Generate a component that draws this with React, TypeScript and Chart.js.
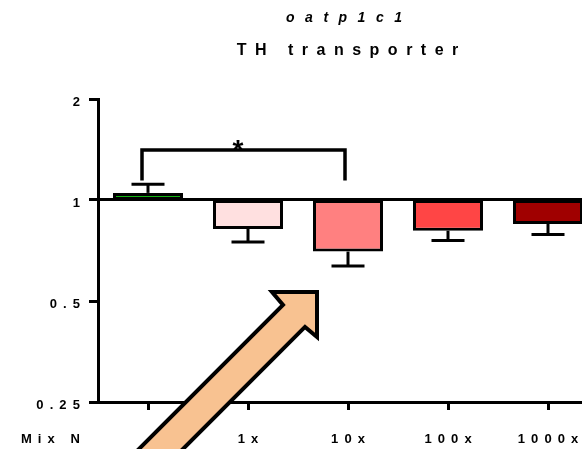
import React, { useEffect, useRef } from 'react';
import { Chart, registerables } from 'chart.js';

Chart.register(...registerables);

const TITLE = 'oatp1c1';
const SUBTITLE = 'TH transporter';
const CATEGORIES = ['Mix N', '1x', '10x', '100x', '1000x'];
const MEANS = [1.05, 0.82, 0.702, 0.81, 0.848];
const ERROR_ENDS = [1.114, 0.75, 0.636, 0.757, 0.789];
const COLORS = ['#12b312', '#FFE0E0', '#FF8080', '#FF4545', '#A00000'];
const Y_TICKS = [0.25, 0.5, 1, 2];
const Y_TICK_LABELS = ['0.25', '0.5', '1', '2'];
const BASELINE = 1;
const Y_MIN = 0.25;
const Y_MAX = 2;
const SIG_FROM = -0.06;
const SIG_TO = 1.97;
const SIG_TOP = 1.41;
const SIG_LEG = 1.143;
const SIG_LABEL = '*';
const SIG_LABEL_X = 0.9;
const ARROW_TIP = { x: 1.69, y: 0.532 };

const FONT = '"Liberation Sans", Arial, sans-serif';
const LS = 6.1;

export default function App() {
  const ref = useRef<HTMLCanvasElement | null>(null);

  useEffect(() => {
    document.body.style.overflow = 'hidden';
    document.documentElement.style.overflow = 'hidden';
    const canvas = ref.current;
    if (!canvas) return;

    const deco = {
      id: 'deco',
      beforeUpdate(chart: any) {
        (chart.ctx as any).letterSpacing = LS + 'px';
      },
      beforeDraw(chart: any) {
        (chart.ctx as any).letterSpacing = LS + 'px';
      },
      afterDatasetsDraw(chart: any) {
        const ctx = chart.ctx;
        const xs = chart.scales.x;
        const ys = chart.scales.y;
        const meta = chart.getDatasetMeta(0);
        ctx.save();
        ctx.strokeStyle = '#000';
        ctx.lineWidth = 3;
        ctx.lineCap = 'butt';
        // error bars, from the bar's free end outward
        meta.data.forEach((bar: any, i: number) => {
          const yStart = ys.getPixelForValue(MEANS[i]);
          const yEnd = ys.getPixelForValue(ERROR_ENDS[i]);
          ctx.beginPath();
          ctx.moveTo(bar.x, yStart);
          ctx.lineTo(bar.x, yEnd);
          ctx.stroke();
          ctx.beginPath();
          ctx.moveTo(bar.x - 16.5, yEnd);
          ctx.lineTo(bar.x + 16.5, yEnd);
          ctx.stroke();
        });
        // significance bracket
        const x0 = xs.getPixelForValue(SIG_FROM);
        const x1 = xs.getPixelForValue(SIG_TO);
        const yt = ys.getPixelForValue(SIG_TOP);
        const yl = ys.getPixelForValue(SIG_LEG);
        ctx.lineWidth = 3.5;
        ctx.lineJoin = 'miter';
        ctx.beginPath();
        ctx.moveTo(x0, yl);
        ctx.lineTo(x0, yt);
        ctx.lineTo(x1, yt);
        ctx.lineTo(x1, yl);
        ctx.stroke();
        (ctx as any).letterSpacing = '0px';
        ctx.fillStyle = '#000';
        ctx.font = `bold 28px ${FONT}`;
        ctx.textAlign = 'center';
        ctx.textBaseline = 'alphabetic';
        ctx.fillText(SIG_LABEL, xs.getPixelForValue(SIG_LABEL_X), yt + 9);
        ctx.restore();
      },
      afterDraw(chart: any) {
        const ctx = chart.ctx;
        const xs = chart.scales.x;
        const ys = chart.scales.y;
        const area = chart.chartArea;
        const cx = (area.left + area.right) / 2;
        ctx.save();
        ctx.fillStyle = '#000';
        // titles
        ctx.textAlign = 'center';
        ctx.textBaseline = 'alphabetic';
        (ctx as any).letterSpacing = '10.5px';
        ctx.font = `italic bold 14px ${FONT}`;
        ctx.fillText(TITLE, cx - 4 + 5.25, 22);
        (ctx as any).letterSpacing = '8.5px';
        ctx.font = `bold 16px ${FONT}`;
        ctx.fillText(SUBTITLE, cx - 0.5 + 4.25, 55);
        // x category labels
        (ctx as any).letterSpacing = LS + 'px';
        ctx.font = `bold 13px ${FONT}`;
        CATEGORIES.forEach((c, i) => {
          if (i === 0) {
            ctx.textAlign = 'right';
            ctx.fillText(c, area.left - 18 + LS, 443);
          } else {
            ctx.textAlign = 'center';
            ctx.fillText(c, xs.getPixelForValue(i) + LS / 2, 443);
          }
        });
        // arrow
        const tx = xs.getPixelForValue(ARROW_TIP.x);
        const ty = ys.getPixelForValue(ARROW_TIP.y);
        const pts: [number, number][] = [
          [0, 0],
          [-45, 0],
          [-34, 13],
          [-34 - 250, 13 + 250],
          [-12 - 250, 35 + 250],
          [-12, 35],
          [0, 45],
        ];
        ctx.beginPath();
        pts.forEach(([dx, dy], k) => {
          if (k === 0) ctx.moveTo(tx + dx, ty + dy);
          else ctx.lineTo(tx + dx, ty + dy);
        });
        ctx.closePath();
        ctx.fillStyle = '#F8C291';
        ctx.fill();
        ctx.lineWidth = 4;
        ctx.lineJoin = 'miter';
        ctx.strokeStyle = '#000';
        ctx.stroke();
        ctx.restore();
      },
    };

    const chart = new Chart(canvas, {
      type: 'bar',
      data: {
        labels: CATEGORIES,
        datasets: [
          {
            data: MEANS.map((m) => [BASELINE, m]) as any,
            backgroundColor: COLORS,
            borderColor: '#000',
            borderWidth: 3,
            borderSkipped: false,
            barPercentage: 0.7,
            categoryPercentage: 1,
          },
        ],
      },
      options: {
        animation: false,
        responsive: false,
        events: [],
        layout: { padding: { top: 99, right: 2, left: 0, bottom: 0 } },
        plugins: {
          legend: { display: false },
          tooltip: { enabled: false },
          title: { display: false },
        },
        scales: {
          x: {
            type: 'category',
            offset: true,
            grid: {
              display: true,
              drawOnChartArea: false,
              drawTicks: true,
              tickLength: 8,
              tickWidth: 3,
              tickColor: '#000',
              offset: false,
            },
            border: { display: true, color: '#000', width: 3 },
            ticks: { display: false },
            afterFit: (s: any) => {
              s.height = 47;
            },
          },
          y: {
            type: 'logarithmic',
            min: Y_MIN,
            max: Y_MAX,
            afterBuildTicks: (s: any) => {
              s.ticks = Y_TICKS.map((v) => ({ value: v }));
            },
            ticks: {
              callback: (v: any) => {
                const i = Y_TICKS.indexOf(Number(v));
                return i >= 0 ? Y_TICK_LABELS[i] : '';
              },
              font: { family: FONT, size: 13, weight: 'bold' },
              color: '#000',
              padding: 3,
              labelOffset: 3,
            },
            grid: {
              display: true,
              color: (c: any) => (c.tick && c.tick.value === BASELINE ? '#000' : 'rgba(0,0,0,0)'),
              lineWidth: 3,
              tickColor: '#000',
              tickWidth: 3,
              tickLength: 9,
              drawTicks: true,
            },
            border: { display: true, color: '#000', width: 3 },
            afterFit: (s: any) => {
              s.width = 98;
            },
          },
        },
      } as any,
      plugins: [deco],
    });

    return () => chart.destroy();
  }, []);

  return (
    <div style={{ position: 'fixed', left: 0, top: 0, width: 600, height: 449, overflow: 'hidden', background: '#fff' }}>
      <canvas ref={ref} width={600} height={449} style={{ display: 'block' }} />
    </div>
  );
}
